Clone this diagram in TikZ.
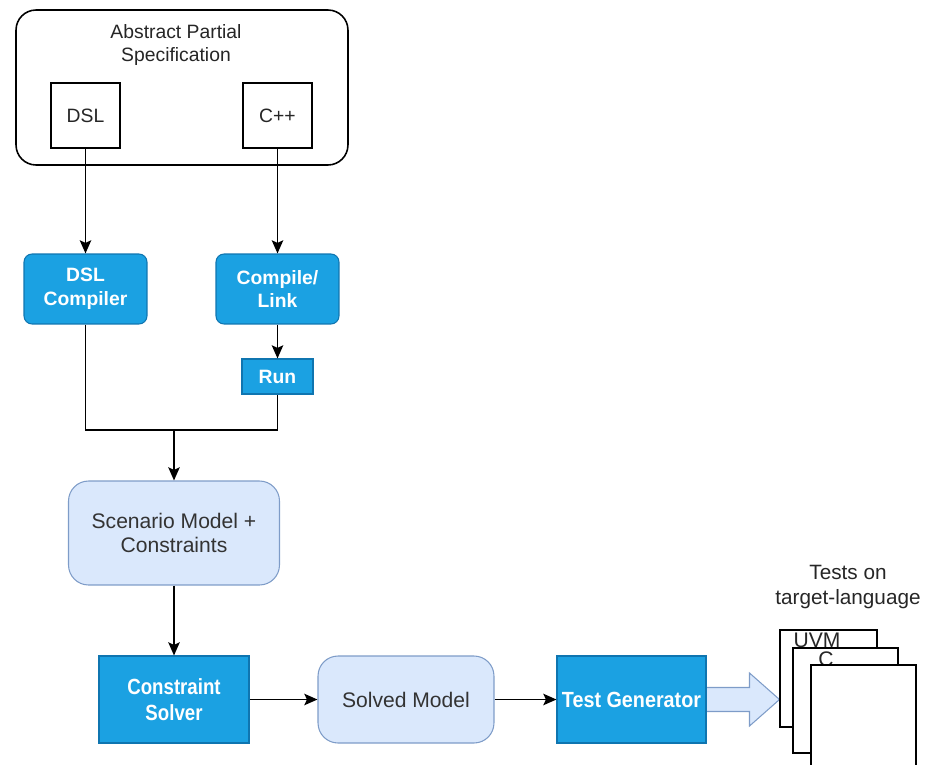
\documentclass[tikz,border=0pt]{standalone}
\usepackage{fontspec}
\setmainfont{Liberation Sans}
\usetikzlibrary{arrows.meta,calc}
\definecolor{toolblue}{HTML}{1BA1E2}
\definecolor{toolline}{HTML}{0F75B0}
\definecolor{modelfill}{HTML}{DAE8FC}
\definecolor{modelline}{HTML}{7E9CC8}
\definecolor{modeltext}{HTML}{333333}

\begin{document}
\begin{tikzpicture}[
  x=0.02cm, y=-0.02cm,
  font=\fontsize{11}{13.6}\selectfont,
  >={Stealth[length=7.5pt,width=6.5pt,inset=1.5pt]},
  flow/.style={->, line width=1.1pt},
  wire/.style={line width=1.1pt},
  outer/.style={draw, line width=0.9pt, rounded corners=0.4cm, minimum width=6.64cm, minimum height=3.1cm},
  lang/.style={draw, line width=0.9pt, fill=white, text=black!85, minimum width=1.38cm, minimum height=1.3cm, inner sep=0pt},
  tool/.style={draw=toolline, fill=toolblue, text=white, font=\fontsize{11}{13.6}\selectfont\bfseries, align=center, inner sep=0pt, line width=0.6pt},
  toolr/.style={tool, rounded corners=0.16cm},
  narrow/.style={tool, font=\fontsize{12.5}{14.5}\selectfont\bfseries},
  model/.style={draw=modelline, fill=modelfill, text=modeltext, font=\fontsize{12}{14}\selectfont, rounded corners=0.4cm, align=center, inner sep=0pt, line width=0.6pt},
  doc/.style={draw, fill=white, line width=0.9pt, anchor=north west, inner sep=0pt},
  lab/.style={align=center, text=black!85}
]
\path[use as bounding box] (0,0) rectangle (926,764);

% specification
\node[outer] (spec) at (182,87.5) {};
\node[lab] (title) at (176,45) {Abstract Partial\\Specification};
\node[lang] (dsl) at (85.5,115.5) {DSL};
\node[lang] (cpp) at (277.5,115.5) {C++};

% tools
\node[toolr, minimum width=2.46cm, minimum height=1.4cm] (dslc) at (85.5,289) {DSL\\Compiler};
\node[toolr, minimum width=2.46cm, minimum height=1.4cm] (link) at (277.5,289) {Compile/\\Link};
\node[tool, minimum width=1.42cm, minimum height=0.7cm] (run) at (277.5,376.5) {Run};
\coordinate (join) at (174,430);

% models
\node[model, minimum width=4.22cm, minimum height=2.08cm] (scen) at (174,533) {Scenario Model +\\Constraints};
\node[narrow, minimum width=3cm, minimum height=1.74cm] (solver) at (174,699.5) {\scalebox{0.85}[1]{Constraint}\\\scalebox{0.85}[1]{Solver}};
\node[model, minimum width=3.52cm, minimum height=1.74cm] (solved) at (406,699.5) {Solved Model};

% block arrow to the tests
\draw[draw=modelline, fill=modelfill, line width=0.6pt]
  ($(631.5,699.5)+(74,-12)$) -- ++(44,0) -- ++(0,-14.5) -- ($(631.5,699.5)+(148,0)$)
  -- ($(631.5,699.5)+(118,26.5)$) -- ++(0,-14.5) -- ($(631.5,699.5)+(74,12)$) -- cycle;
\node[narrow, minimum width=2.98cm, minimum height=1.74cm] (testgen) at (631.5,699.5) {\scalebox{0.9}[1]{Test Generator}};

% generated tests
\node[lab, font=\fontsize{11.8}{14}\selectfont] (tests) at (848,587) {Tests on\\target-language};
\node[doc, minimum width=1.94cm, minimum height=1.94cm] (uvm) at (779,629) {};
\node[lab, inner sep=0pt, font=\fontsize{12}{14}\selectfont] (uvmlab) at (817,640) {UVM};
\node[doc, minimum width=2.1cm, minimum height=2.1cm] (cdoc) at (792,647) {};
\node[lab, inner sep=0pt, font=\fontsize{12}{14}\selectfont] (clab) at (826,659) {C};
\node[doc, minimum width=2.1cm, minimum height=2.3cm] (last) at (810,664) {};

% connectors
\draw[flow] (dsl) -- (dslc);
\draw[flow] (cpp) -- (link);
\draw[flow] (link) -- (run);
\draw[wire] (dslc.south) |- (join) -| (run.south);
\draw[flow] (join) -- (scen.north);
\draw[flow] (scen) -- (solver);
\draw[flow] (solver) -- (solved);
\draw[flow] (solved) -- (testgen);
\end{tikzpicture}
\end{document}
